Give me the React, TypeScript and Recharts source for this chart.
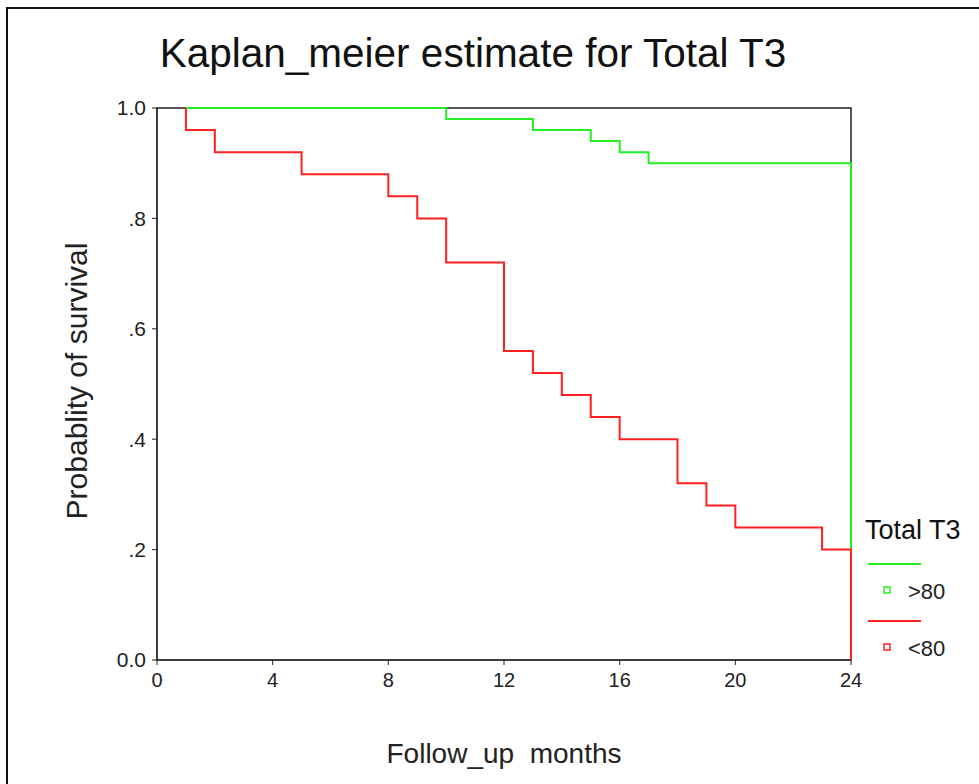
import React from "react";
import { LineChart, Line, XAxis, YAxis, ReferenceArea } from "recharts";

// Kaplan-Meier steps (months, survival)
const highMonths = [1, 10, 13, 15, 16, 17, 24];
const highSurvival = [1.0, 0.98, 0.96, 0.94, 0.92, 0.9, 0.0];

const lowMonths = [1, 1, 2, 5, 8, 9, 10, 12, 13, 14, 15, 16, 18, 19, 20, 23, 24];
const lowSurvival = [
  1.0, 0.96, 0.92, 0.88, 0.84, 0.8, 0.72, 0.56, 0.52, 0.48, 0.44, 0.4, 0.32,
  0.28, 0.24, 0.2, 0.0,
];

const xTicks = [0, 4, 8, 12, 16, 20, 24];
const yTicks = [0, 0.2, 0.4, 0.6, 0.8, 1.0];

const legendItems = [
  { label: ">80", color: "#22ee22" },
  { label: "<80", color: "#ff2020" },
];

const highData = highMonths.map((t, i) => ({ t, s: highSurvival[i] }));
const lowData = lowMonths.map((t, i) => ({ t, s: lowSurvival[i] }));

const FONT = "'Liberation Sans', Arial, sans-serif";

const fmtY = (v: number) => {
  if (v === 0) return "0.0";
  if (v === 1) return "1.0";
  return v.toFixed(1).replace(/^0/, "");
};

const App = () => {
  return (
    <div
      style={{
        position: "absolute",
        left: 0,
        top: 0,
        width: 979,
        height: 784,
        overflow: "hidden",
        background: "#fff",
        fontFamily: FONT,
      }}
    >
      {/* outer frame */}
      <div
        style={{
          position: "absolute",
          left: 6,
          top: 7,
          width: 1200,
          height: 1200,
          borderTop: "2px solid #111",
          borderLeft: "2px solid #111",
        }}
      />
      <LineChart
        width={979}
        height={784}
        margin={{ top: 108, right: 128, bottom: 84, left: 97 }}
        style={{ position: "absolute", left: 0, top: 0 }}
      >
        <XAxis
          dataKey="t"
          type="number"
          domain={[0, 24]}
          ticks={xTicks}
          height={40}
          allowDuplicatedCategory={false}
          stroke="#222"
          tickSize={5}
          tickMargin={8}
          tick={{ fontSize: 20, fill: "#222", fontFamily: FONT }}
        />
        <YAxis
          type="number"
          domain={[0, 1]}
          ticks={yTicks}
          tickFormatter={fmtY}
          width={60}
          stroke="#222"
          tickSize={5}
          tickMargin={6}
          tick={{ fontSize: 21, fill: "#222", fontFamily: FONT }}
        />
        <ReferenceArea
          x1={0}
          x2={24}
          y1={0}
          y2={1}
          fill="none"
          stroke="#222"
          strokeWidth={1.5}
          ifOverflow="visible"
        />
        <Line
          data={highData}
          dataKey="s"
          type="stepAfter"
          stroke={legendItems[0].color}
          strokeWidth={2}
          dot={false}
          activeDot={false}
          isAnimationActive={false}
        />
        <Line
          data={lowData}
          dataKey="s"
          type="stepAfter"
          stroke={legendItems[1].color}
          strokeWidth={2}
          dot={false}
          activeDot={false}
          isAnimationActive={false}
        />
      </LineChart>
      <svg
        width={979}
        height={784}
        style={{ position: "absolute", left: 0, top: 0, pointerEvents: "none" }}
        fontFamily={FONT}
      >
        <text x={473} y={67} textAnchor="middle" fontSize={40.5} fill="#111">
          Kaplan_meier estimate for Total T3
        </text>
        <text
          x={504}
          y={763}
          textAnchor="middle"
          fontSize={28}
          fill="#222"
          style={{ whiteSpace: "pre" }}
        >
          {"Follow_up  months"}
        </text>
        <text
          transform="translate(87 381) rotate(-90)"
          textAnchor="middle"
          fontSize={30}
          fill="#222"
        >
          Probablity of survival
        </text>
        {/* legend */}
        <text x={865} y={539} fontSize={27} fill="#111">
          Total T3
        </text>
        {legendItems.map((item, i) => (
          <g key={item.label} transform={`translate(0 ${i * 57})`}>
            <line x1={868} x2={921} y1={564} y2={564} stroke={item.color} strokeWidth={2} />
            <rect
              x={884}
              y={587}
              width={6}
              height={6}
              fill="none"
              stroke={item.color}
              strokeWidth={1.5}
            />
            <text x={908} y={599} fontSize={22} fill="#222">
              {item.label}
            </text>
          </g>
        ))}
      </svg>
    </div>
  );
};

export default App;
